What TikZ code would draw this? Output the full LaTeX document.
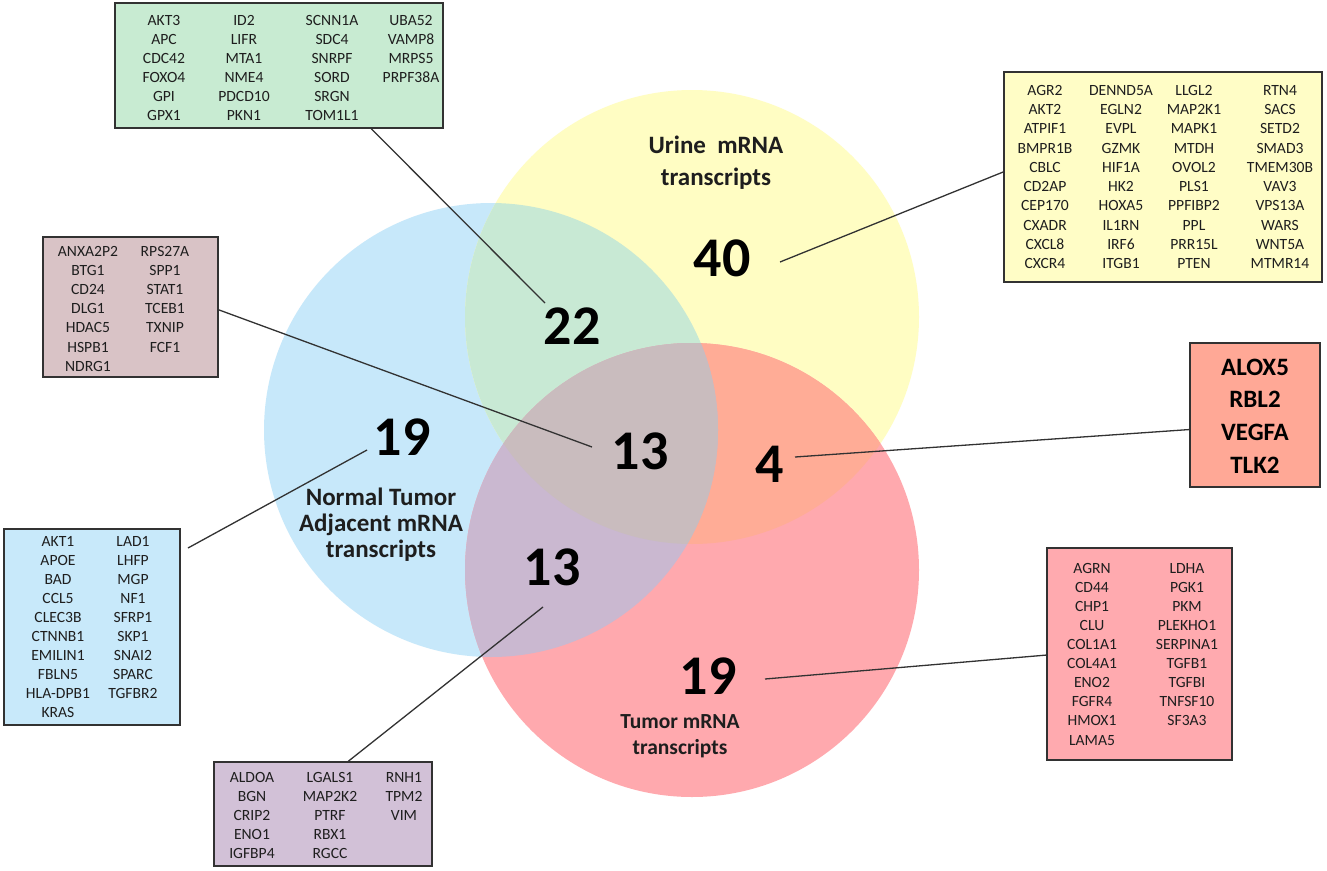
\documentclass[tikz,border=0pt]{standalone}
\usepackage{fontspec}
\setmainfont{Carlito}
\usetikzlibrary{calc}
\definecolor{blueC}{RGB}{199,232,250}
\definecolor{yellowC}{RGB}{255,253,195}
\definecolor{redC}{RGB}{255,169,174}
\definecolor{greenC}{RGB}{200,233,212}
\definecolor{orangeC}{RGB}{255,172,150}
\definecolor{lavC}{RGB}{202,184,208}
\definecolor{greyC}{RGB}{201,188,190}
\definecolor{greenBox}{RGB}{200,235,210}
\definecolor{yellowBox}{RGB}{255,253,198}
\definecolor{brownBox}{RGB}{217,195,198}
\definecolor{blueBox}{RGB}{200,233,250}
\definecolor{purpleBox}{RGB}{210,193,215}
\definecolor{redBox}{RGB}{255,170,175}
\definecolor{orangeBox}{RGB}{255,168,150}
\definecolor{lineC}{RGB}{50,50,50}
\definecolor{txtC}{RGB}{30,30,30}
\newcommand\genecol[5]{%
  \foreach \g [count=\r] in {#5} \node[gene] (#1-\r) at (#2,{#3+#4*(\r-1)}) {\g};}
\begin{document}
\begin{tikzpicture}[x=1pt,y=-1pt,
  gene/.style={inner sep=0pt, text height=10.3pt, text depth=0pt, text=txtC,
    font=\fontsize{15.6}{19}\selectfont},
  biggene/.style={inner sep=0pt, text height=16pt, text depth=0pt, text=black,
    font=\fontsize{25}{29}\selectfont\bfseries},
  genebox/.style={draw=lineC, line width=1.4pt, inner sep=0pt},
  conn/.style={draw=lineC, line width=1.3pt},
  bignum/.style={inner sep=0pt, text height=35pt, text depth=0pt,
    font=\fontsize{56}{60}\selectfont\bfseries},
  setlabel/.style={inner sep=0pt, align=center, text=txtC,
    font=\fontsize{25}{26}\selectfont\bfseries}]
\useasboundingbox[fill=white] (0,0) rectangle (1327,870);
% circles
\fill[blueC] (491,430) circle[radius=227pt];
\fill[yellowC] (692,317) circle[radius=227pt];
\fill[redC] (692,570) circle[radius=227pt];
\begin{scope}
  \clip (491,430) circle[radius=227pt];
  \fill[greenC] (692,317) circle[radius=227pt];
\end{scope}
\begin{scope}
  \clip (692,570) circle[radius=227pt];
  \fill[orangeC] (692,317) circle[radius=227pt];
\end{scope}
\begin{scope}
  \clip (692,570) circle[radius=227pt];
  \fill[lavC] (491,430) circle[radius=227pt];
\end{scope}
\begin{scope}
  \clip (692,570) circle[radius=227pt];
  \clip (491,430) circle[radius=227pt];
  \fill[greyC] (692,317) circle[radius=227pt];
\end{scope}
% set labels
\node[setlabel, font=\fontsize{25}{32}\selectfont\bfseries] (lurine) at (716,163) {Urine\ \ mRNA\\transcripts};
\node[setlabel] (lnormal) at (381,525) {Normal Tumor\\Adjacent mRNA\\transcripts};
\node[setlabel, font=\fontsize{21.5}{26}\selectfont\bfseries] (ltumor) at (680,736) {Tumor mRNA\\transcripts};
% numbers
\node[bignum] (n40) at (722,259) {40};
\node[bignum] (n22) at (572,327) {22};
\node[bignum] (n13c) at (640,452) {13};
\node[bignum] (n4) at (770,465) {4};
\node[bignum] (n19n) at (402,438) {19};
\node[bignum] (n13b) at (552,568) {13};
\node[bignum] (n19t) at (708,677) {19};
% boxes
\node[genebox, fill=greenBox, minimum width=328pt, minimum height=125pt] (gbox) at (279,65.5) {};
\node[genebox, fill=yellowBox, minimum width=318pt, minimum height=210pt] (ybox) at (1163,177) {};
\node[genebox, fill=brownBox, minimum width=175pt, minimum height=140pt] (brbox) at (130.5,307) {};
\node[genebox, fill=blueBox, minimum width=176pt, minimum height=196pt] (bbox) at (92,627) {};
\node[genebox, fill=purpleBox, minimum width=218pt, minimum height=104pt] (pbox) at (323,814) {};
\node[genebox, fill=redBox, minimum width=185pt, minimum height=212pt] (rbox) at (1139.5,654) {};
\node[genebox, fill=orangeBox, minimum width=130pt, minimum height=144pt] (obox) at (1255,415) {};
% genes
\genecol{ga}{164}{20}{19}{AKT3,APC,CDC42,FOXO4,GPI,GPX1}
\genecol{gb}{244}{20}{19}{ID2,LIFR,MTA1,NME4,PDCD10,PKN1}
\genecol{gc}{332}{20}{19}{SCNN1A,SDC4,SNRPF,SORD,SRGN,TOM1L1}
\genecol{gd}{411}{20}{19}{UBA52,VAMP8,MRPS5,PRPF38A}
\genecol{ya}{1045}{90}{19.3}{AGR2,AKT2,ATPIF1,BMPR1B,CBLC,CD2AP,CEP170,CXADR,CXCL8,CXCR4}
\genecol{yb}{1121}{90}{19.3}{DENND5A,EGLN2,EVPL,GZMK,HIF1A,HK2,HOXA5,IL1RN,IRF6,ITGB1}
\genecol{yc}{1194}{90}{19.3}{LLGL2,MAP2K1,MAPK1,MTDH,OVOL2,PLS1,PPFIBP2,PPL,PRR15L,PTEN}
\genecol{yd}{1280}{90}{19.3}{RTN4,SACS,SETD2,SMAD3,TMEM30B,VAV3,VPS13A,WARS,WNT5A,MTMR14}
\genecol{bra}{88}{251}{19.2}{ANXA2P2,BTG1,CD24,DLG1,HDAC5,HSPB1,NDRG1}
\genecol{brb}{165}{251}{19.2}{RPS27A,SPP1,STAT1,TCEB1,TXNIP,FCF1}
\genecol{ba}{58}{541}{19}{AKT1,APOE,BAD,CCL5,CLEC3B,CTNNB1,EMILIN1,FBLN5,HLA-DPB1,KRAS}
\genecol{bb}{133}{541}{19}{LAD1,LHFP,MGP,NF1,SFRP1,SKP1,SNAI2,SPARC,TGFBR2}
\genecol{pa}{252}{777}{19}{ALDOA,BGN,CRIP2,ENO1,IGFBP4}
\genecol{pb}{330}{777}{19}{LGALS1,MAP2K2,PTRF,RBX1,RGCC}
\genecol{pc}{404}{777}{19}{RNH1,TPM2,VIM}
\genecol{ra}{1092}{568}{19.1}{AGRN,CD44,CHP1,CLU,COL1A1,COL4A1,ENO2,FGFR4,HMOX1,LAMA5}
\genecol{rb}{1187}{568}{19.1}{LDHA,PGK1,PKM,PLEKHO1,SERPINA1,TGFB1,TGFBI,TNFSF10,SF3A3}
\foreach \g [count=\r] in {ALOX5,RBL2,VEGFA,TLK2}
  \node[biggene] (oa-\r) at (1255,{367+32.7*(\r-1)}) {\g};
% connector ends
\coordinate (e22) at (545,303);
\coordinate (e40) at (780,262);
\coordinate (e13c) at (592,447);
\coordinate (e4) at (795,457);
\coordinate (e19n) at (367,450);
\coordinate (s19n) at (188,548);
\coordinate (e13b) at (543,607);
\coordinate (e19t) at (765,679);
% connectors
\draw[conn] ($(gbox.south west)!0.78!(gbox.south east)$) -- (e22);
\draw[conn] ($(ybox.north west)!0.476!(ybox.south west)$) -- (e40);
\draw[conn] ($(brbox.north east)!0.52!(brbox.south east)$) -- (e13c);
\draw[conn] ($(obox.north west)!0.60!(obox.south west)$) -- (e4);
\draw[conn] (s19n) -- (e19n);
\draw[conn] ($(pbox.north west)!0.615!(pbox.north east)$) -- (e13b);
\draw[conn] ($(rbox.north west)!0.505!(rbox.south west)$) -- (e19t);
\end{tikzpicture}
\end{document}
